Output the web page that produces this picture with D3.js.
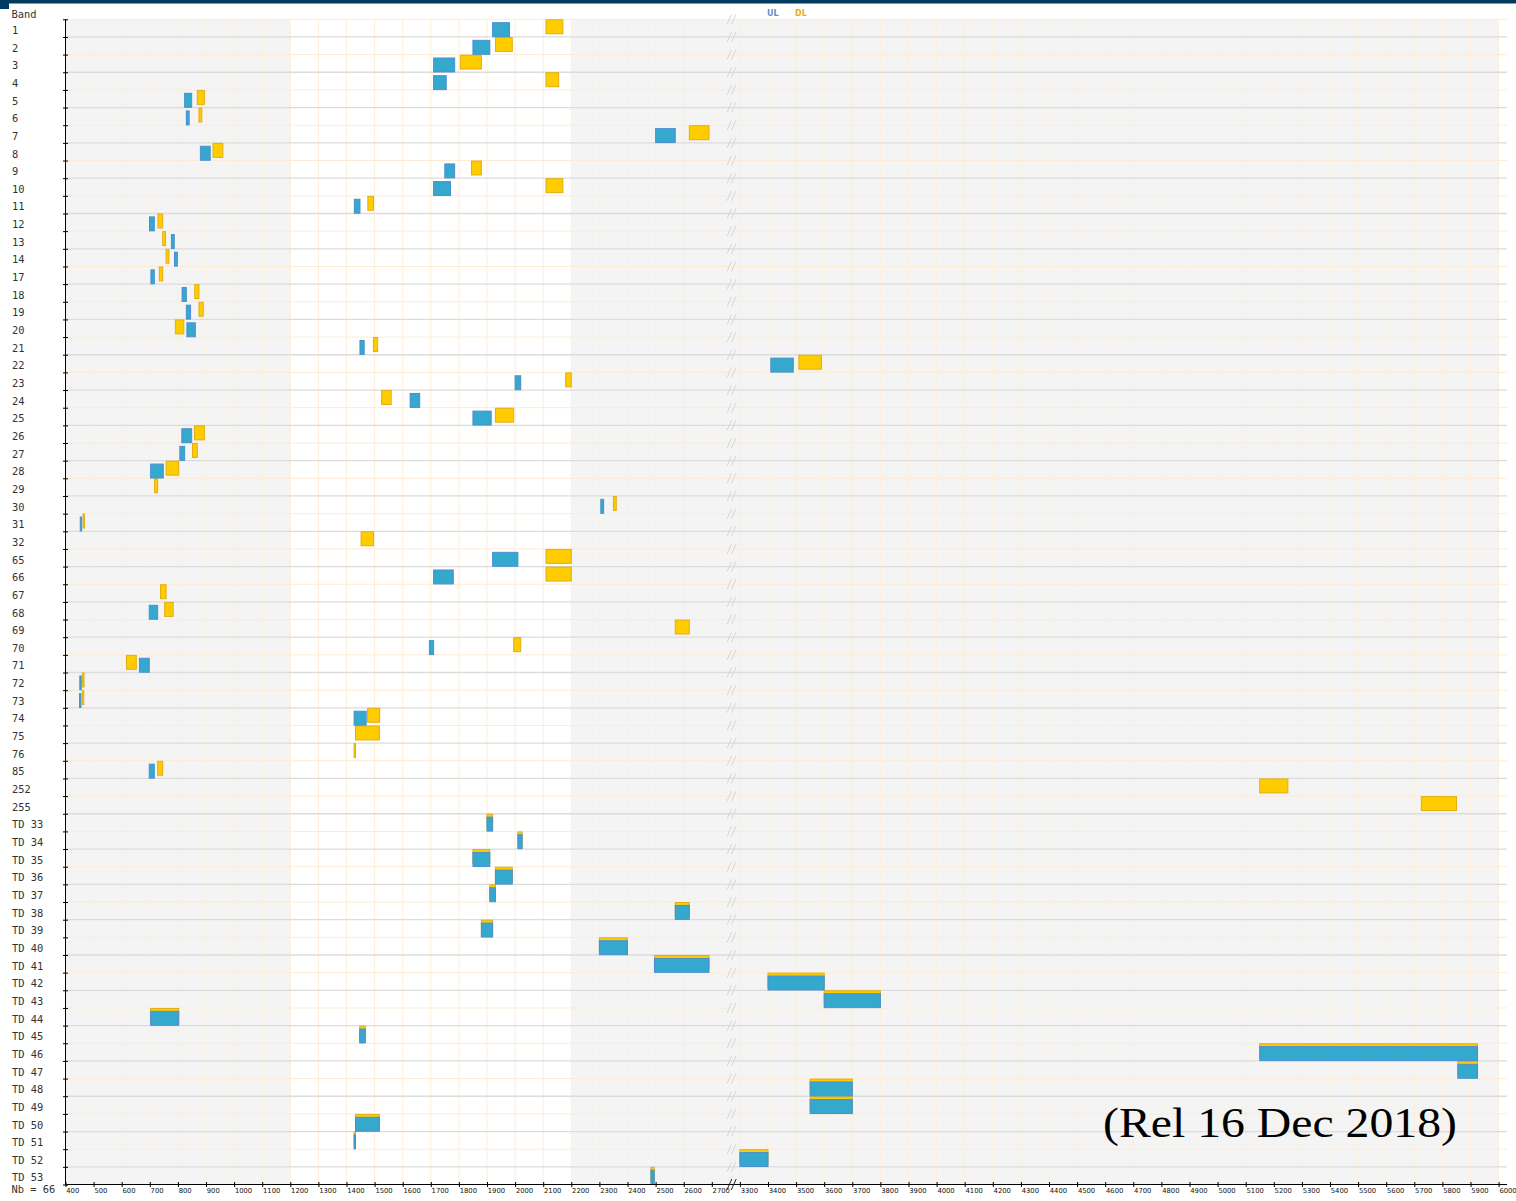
<!DOCTYPE html>
<html><head><meta charset="utf-8">
<script src="https://cdn.jsdelivr.net/npm/d3@7"></script>
<style>
html,body{margin:0;padding:0;background:#fff;}
svg{display:block;}
</style></head>
<body>
<script>
// ---- data ----
const bands = ["1","2","3","4","5","6","7","8","9","10","11","12","13","14","17","18","19","20","21","22","23","24","25","26","27","28","29","30","31","32","65","66","67","68","69","70","71","72","73","74","75","76","85","252","255",
"TD 33","TD 34","TD 35","TD 36","TD 37","TD 38","TD 39","TD 40","TD 41","TD 42","TD 43","TD 44","TD 45","TD 46","TD 47","TD 48","TD 49","TD 50","TD 51","TD 52","TD 53"];
const ulLow  = [1920,1850,1710,1710,824,830,2500,880,1749.9,1710,1427.9,699,777,788,704,815,830,832,1447.9,3410,2000,1626.5,1850,814,807,703,null,2305,452.5,null,1920,1710,null,698,null,1695,663,451,450,1427,null,null,698,null,null,
1900,2010,1850,1930,1910,2570,1880,2300,2496,3400,3600,703,1447,5150,5855,3550,3550,1432,1427,3300,2483.5];
const ulHigh = [1980,1910,1785,1755,849,840,2570,915,1784.9,1770,1447.9,716,787,798,716,830,845,862,1462.9,3490,2020,1660.5,1915,849,824,748,null,2315,457.5,null,2010,1780,null,728,null,1710,698,456,455,1470,null,null,716,null,null,
1920,2025,1910,1990,1930,2620,1920,2400,2690,3600,3800,803,1467,5925,5925,3700,3700,1517,1432,3400,2495];
const dlLow  = [2110,1930,1805,2110,869,875,2620,925,1844.9,2110,1475.9,729,746,758,734,860,875,791,1495.9,3510,2180,1525,1930,859,852,758,717,2350,462.5,1452,2110,2110,738,753,2570,1995,617,461,460,1475,1432,1427,728,5150,5725,
1900,2010,1850,1930,1910,2570,1880,2300,2496,3400,3600,703,1447,5150,5855,3550,3550,1432,1427,3300,2483.5];
const dlHigh = [2170,1990,1880,2155,894,885,2690,960,1879.9,2170,1495.9,746,756,768,746,875,890,821,1510.9,3590,2200,1559,1995,894,869,803,728,2360,467.5,1496,2200,2200,758,783,2620,2020,652,466,465,1518,1517,1432,746,5250,5850,
1920,2025,1910,1990,1930,2620,1920,2400,2690,3600,3800,803,1467,5925,5925,3700,3700,1517,1432,3400,2495];
const tickLabels = [400,500,600,700,800,900,1000,1100,1200,1300,1400,1500,1600,1700,1800,1900,2000,2100,2200,2300,2400,2500,2600,2700,
3300,3400,3500,3600,3700,3800,3900,4000,4100,4200,4300,4400,4500,4600,4700,4800,4900,5000,5100,5200,5300,5400,5500,5600,5700,5800,5900,6000];
const shadedRanges = [[400,1200],[2200,6000]];
const legendItems = ["UL","DL"];
const titleText = "(Rel 16 Dec 2018)";

// ---- layout ----
const W = 1516, H = 1201;
const x0 = 65.5, u = 28.1, plotTop = 19.3, plotBottom = 1184.5, rightEnd = 1507;
const x = d3.scaleLinear().domain([400,2700,3300,6000]).range([x0, x0+23*u, x0+24*u, x0+51*u]);
const y = d3.scaleBand().domain(bands).range([plotTop,plotBottom]);
const yIdx = d3.scaleLinear().domain([0,bands.length]).range([plotTop,plotBottom]);
const rowH = y.bandwidth();
const barH = rowH - 3.2;
const breakX = 731.5;

const svg = d3.select("body").append("svg").attr("width",W).attr("height",H);

// top bar
svg.append("rect").attr("x",0).attr("y",0).attr("width",W).attr("height",3.5).attr("fill","#003b5e");
svg.append("rect").attr("x",0).attr("y",0).attr("width",9).attr("height",9).attr("fill","#003b66");

// shaded backgrounds
svg.selectAll("rect.shade").data(shadedRanges).join("rect").attr("class","shade")
  .attr("x",d=>x(d[0])).attr("width",d=>x(d[1])-x(d[0]))
  .attr("y",plotTop).attr("height",plotBottom-plotTop).attr("fill","#f4f4f4");

// vertical grid
svg.selectAll("line.vgrid").data(tickLabels).join("line").attr("class","vgrid")
  .attr("x1",d=>x(d)).attr("x2",d=>x(d)).attr("y1",plotTop).attr("y2",plotBottom)
  .attr("stroke","#fdefd9").attr("stroke-width",1);

// horizontal grid
svg.selectAll("line.hgrid").data(d3.range(0,bands.length)).join("line").attr("class","hgrid")
  .attr("x1",x0).attr("x2",rightEnd)
  .attr("y1",d=>yIdx(d)).attr("y2",d=>yIdx(d))
  .attr("stroke",d=>d%2===0?"#fdebd4":"#dcdcdc").attr("stroke-width",d=>d%2===0?1:1.3);

// row break marks
const brk = svg.append("g");
d3.range(0,bands.length).forEach(k=>{
  const yy = yIdx(k);
  [-2.2,2.2].forEach(o=>{
    brk.append("line").attr("x1",breakX+o-2.2).attr("y1",yy+5).attr("x2",breakX+o+2.2).attr("y2",yy-5)
      .attr("stroke","#d6d6d6").attr("stroke-width",1);
  });
});

// bars
const rows = bands.map((b,i)=>({b,ul:[ulLow[i],ulHigh[i]],dl:[dlLow[i],dlHigh[i]]}));
const bars = svg.append("g");
rows.forEach(r=>{
  if(r.dl[0]!=null){
    bars.append("rect").attr("x",x(r.dl[0])).attr("y",y(r.b)+0.5)
      .attr("width",Math.max(1,x(r.dl[1])-x(r.dl[0]))).attr("height",barH-0.5)
      .attr("fill","#ffcc00").attr("stroke","#e3ad12").attr("stroke-width",1);
  }
});
rows.forEach(r=>{
  if(r.ul[0]!=null){
    bars.append("rect").attr("x",x(r.ul[0])).attr("y",y(r.b)+3.4)
      .attr("width",Math.max(1,x(r.ul[1])-x(r.ul[0]))).attr("height",barH-0.5)
      .attr("fill","#35a9cd").attr("stroke","#4a8ed2").attr("stroke-width",1);
  }
});

// x axis
const xAxis = d3.axisBottom(x).tickValues(tickLabels).tickSize(3).tickFormat(d3.format("d"));
const gx = svg.append("g").attr("transform",`translate(0,${plotBottom})`).call(xAxis);
gx.select(".domain").remove();
gx.append("line").attr("x1",x0).attr("x2",rightEnd).attr("y1",0).attr("y2",0).attr("stroke","#000");
gx.selectAll(".tick line").attr("y1",-2.5).attr("y2",2.5).attr("stroke","#000");
gx.selectAll(".tick text").attr("text-anchor","start").attr("x",0.3).attr("y",0).attr("dy","8.2px")
  .attr("font-family","DejaVu Sans").attr("font-size","6.8px").attr("fill","#111");
// axis break marks
[-2.2,2.2].forEach(o=>{
  gx.append("line").attr("x1",breakX+o-2.5).attr("y1",5.5).attr("x2",breakX+o+2.5).attr("y2",-5.5)
    .attr("stroke","#222").attr("stroke-width",1);
});

// y axis
const yAxis = d3.axisLeft(yIdx).tickValues(d3.range(0,bands.length+1)).tickSize(3).tickFormat("");
const gy = svg.append("g").attr("transform",`translate(${x0},0)`).call(yAxis);
gy.select(".domain").attr("stroke","#000").attr("d",`M0,${plotTop}V${plotBottom}`);
gy.selectAll(".tick line").attr("x1",-2.5).attr("x2",2.5).attr("stroke","#000");

// row labels
svg.selectAll("text.rl").data(bands).join("text").attr("class","rl")
  .attr("x",12).attr("y",d=>y(d)+rowH/2+5.8)
  .attr("font-family","DejaVu Sans Mono").attr("font-size","10.4px").attr("fill","#333")
  .text(d=>d);
svg.append("text").attr("x",11.5).attr("y",17.5).attr("font-family","DejaVu Sans Mono")
  .attr("font-size","10.4px").attr("fill","#333").text("Band");
svg.append("text").attr("x",11.5).attr("y",1193).attr("font-family","DejaVu Sans Mono")
  .attr("font-size","10.4px").attr("fill","#333").text("Nb = " + bands.length);

// legend
const legendColors = ["#5b8fd0","#e6ad1c"];
svg.selectAll("text.leg").data(legendItems).join("text").attr("class","leg")
  .attr("x",(d,i)=>767+i*28).attr("y",15.5)
  .attr("font-family","DejaVu Sans").attr("font-weight","bold").attr("font-size","8px")
  .attr("fill",(d,i)=>legendColors[i]).text(d=>d);

// release text
svg.append("text").attr("x",1103).attr("y",1137)
  .attr("font-family","Liberation Serif").attr("font-size","42px").attr("fill","#000")
  .attr("textLength",354).attr("lengthAdjust","spacingAndGlyphs")
  .text(titleText);
</script>
</body></html>
